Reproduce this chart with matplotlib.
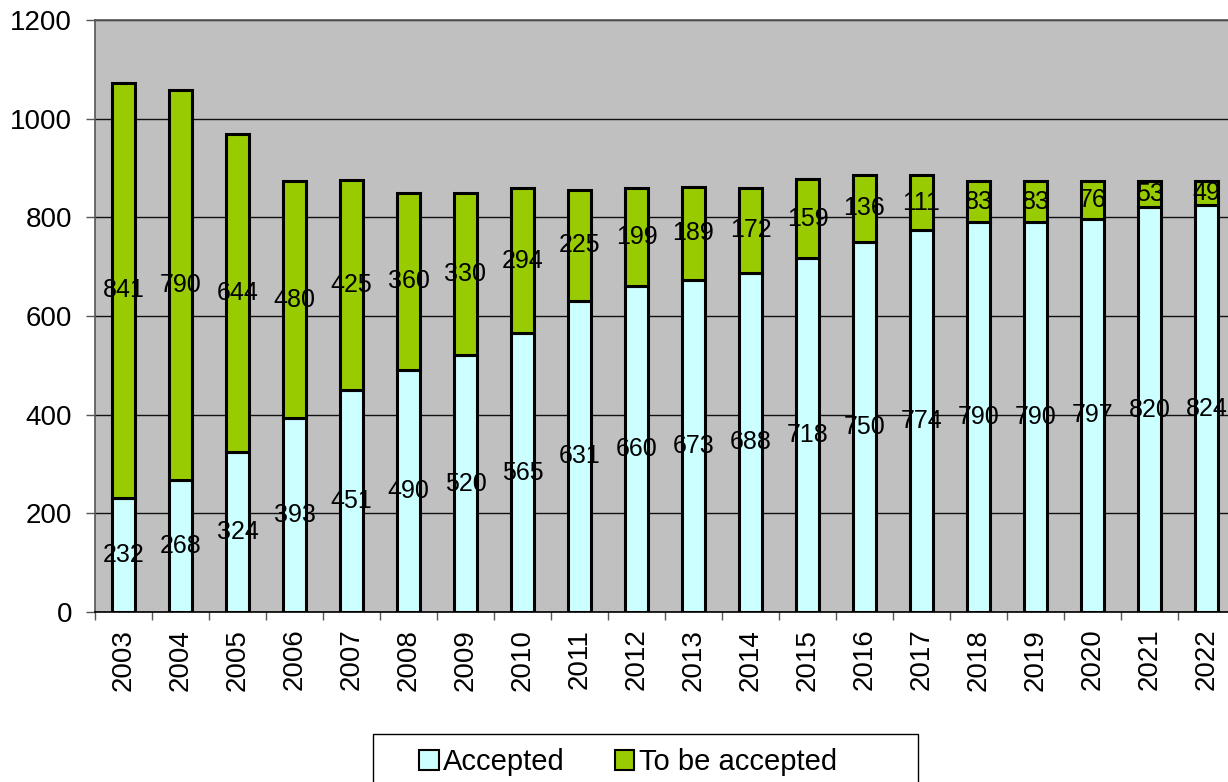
import matplotlib
matplotlib.use("Agg")
import matplotlib.pyplot as plt
import numpy as np
from matplotlib.patches import Patch, Rectangle

years = [str(y) for y in range(2003, 2023)]
accepted = [232, 268, 324, 393, 451, 490, 520, 565, 631, 660, 673, 688, 718, 750, 774, 790, 790, 797, 820, 824]
to_be_accepted = [841, 790, 644, 480, 425, 360, 330, 294, 225, 199, 189, 172, 159, 136, 111, 83, 83, 76, 53, 49]

plt.rcParams['font.family'] = ['Liberation Sans', 'DejaVu Sans']

W, H = 1228, 782
fig = plt.figure(figsize=(W / 100, H / 100), dpi=100)
ax = fig.add_axes([95 / W, (H - 612) / H, 1140 / W, 592 / H])
ax.set_facecolor('#C0C0C0')

x = np.arange(len(years))
c_acc = '#CCFFFF'
c_tba = '#99CC00'
ax.bar(x, accepted, width=0.42, color=c_acc, edgecolor='black', linewidth=2.2, zorder=3)
ax.bar(x, to_be_accepted, width=0.42, bottom=accepted, color=c_tba, edgecolor='black', linewidth=2.2, zorder=3)

for i in range(len(years)):
    ax.text(x[i], accepted[i] / 2, str(accepted[i]), ha='center', va='center', fontsize=18, zorder=4)
    ax.text(x[i], accepted[i] + to_be_accepted[i] / 2, str(to_be_accepted[i]), ha='center', va='center', fontsize=18, zorder=4)

ax.set_ylim(0, 1200)
ax.set_xlim(-0.5, len(years) - 0.5)
ax.set_yticks(range(0, 1201, 200))
ax.yaxis.grid(True, color='#111111', linewidth=1.0, zorder=1)
ax.set_axisbelow(True)

ax.set_xticks(x)
ax.set_xticklabels(years, rotation=90, fontsize=20)
ax.set_xticks(np.arange(-0.5, len(years), 1.0), minor=True)
ax.tick_params(axis='x', which='major', length=0, pad=12)
ax.tick_params(axis='x', which='minor', length=6, width=1, color='#555555')
ax.tick_params(axis='y', labelsize=20, length=6.5, width=1, color='#555555', pad=10)

for s in ['left', 'top', 'bottom', 'right']:
    ax.spines[s].set_color('#555555')
    ax.spines[s].set_linewidth(1.2)
ax.spines['bottom'].set_color('black')

# legend frame (extends below the cropped figure edge)
fig.patches.append(Rectangle((373 / W, -10 / H), (918 - 373) / W, (H - 734 + 10) / H,
                             transform=fig.transFigure, facecolor='white', edgecolor='black',
                             linewidth=1.0, zorder=1))

handles = [Patch(facecolor=c_acc, edgecolor='black', linewidth=1.5, label='Accepted'),
           Patch(facecolor=c_tba, edgecolor='black', linewidth=1.5, label='To be accepted')]
leg = fig.legend(handles=handles, loc='center left', bbox_to_anchor=(419 / W, (H - 762) / H),
                 ncol=2, fontsize=21, frameon=False,
                 handlelength=0.68, handleheight=0.68, handletextpad=0.15, columnspacing=1.7,
                 borderpad=0, borderaxespad=0)
leg.set_zorder(5)

fig.savefig('out.png', dpi=100, facecolor='white')
